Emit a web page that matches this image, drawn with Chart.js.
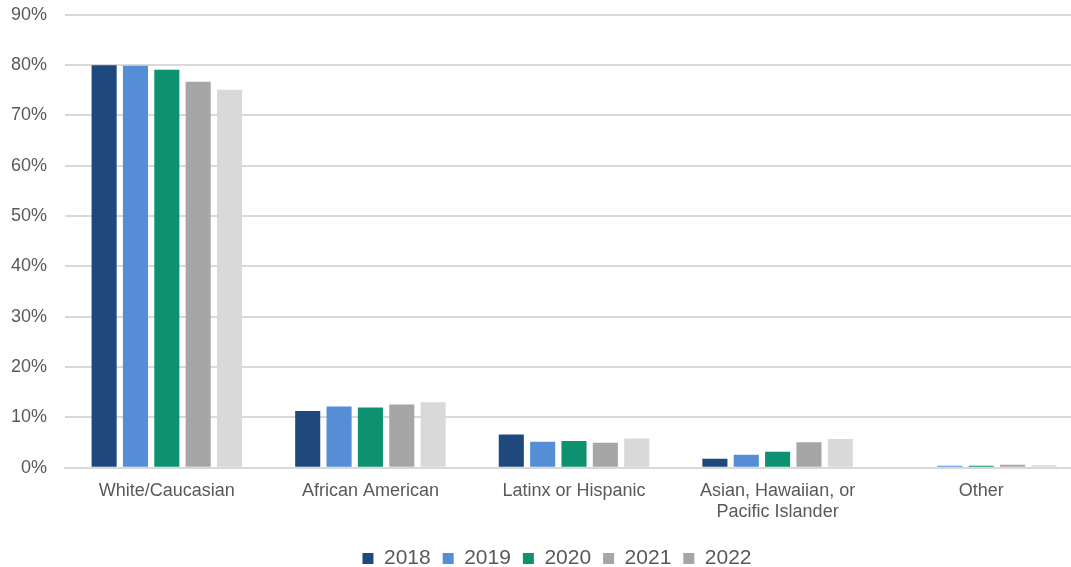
<!DOCTYPE html>
<html>
<head>
<meta charset="utf-8">
<script src="https://cdn.jsdelivr.net/npm/chart.js@4"></script>
<style>
  html, body { margin: 0; padding: 0; background: #fff; overflow: hidden; }
  /* plot runs slightly past the right edge of the window */
  #wrap { width: 1083px; height: 567px; }
</style>
</head>
<body>
<div id="wrap"><canvas id="raceChart"></canvas></div>
<script>
const categories = [
    'White/Caucasian',
    'African American',
    'Latinx or Hispanic',
    ['Asian, Hawaiian, or', 'Pacific Islander'],
    'Other'
];
const years = ['2018', '2019', '2020', '2021', '2022'];
const share2018 = [80.0, 11.3, 6.6, 1.8, 0.2];
const share2019 = [79.9, 12.2, 5.2, 2.6, 0.4];
const share2020 = [79.1, 12.0, 5.3, 3.2, 0.4];
const share2021 = [76.7, 12.6, 5.0, 5.1, 0.6];
const share2022 = [75.1, 13.0, 5.8, 5.7, 0.5];
const yTicks = [0, 10, 20, 30, 40, 50, 60, 70, 80, 90];

const barColors = ['#1f497d', '#558ed5', '#0e9170', '#a6a6a6', '#d9d9d9'];
// the 2022 legend swatch is the darker gray
const swatchColors = ['#1f497d', '#558ed5', '#0e9170', '#a6a6a6', '#a6a6a6'];
const textColor = '#595959';
const fontFamily = 'Liberation Sans, Arial, sans-serif';

const series = [share2018, share2019, share2020, share2021, share2022];

// nudge the legend row a little to the right
const legendShift = {
    id: 'legendShift',
    afterLayout(chart) {
        chart.legend.left += 12;
        chart.legend.right += 12;
    }
};

document.addEventListener('DOMContentLoaded', () => {
    const ctx = document.getElementById('raceChart').getContext('2d');
    new Chart(ctx, {
        type: 'bar',
        data: {
            labels: categories,
            datasets: series.map((values, i) => ({
                label: years[i],
                data: values,
                backgroundColor: barColors[i],
                borderWidth: 0,
                categoryPercentage: 0.77,
                barPercentage: 0.8
            }))
        },
        options: {
            responsive: true,
            maintainAspectRatio: false,
            animation: false,
            layout: { padding: { top: 0, right: 0, left: 7, bottom: -12 } },
            scales: {
                y: {
                    min: 0,
                    max: 90,
                    afterBuildTicks: axis => { axis.ticks = yTicks.map(v => ({ value: v })); },
                    ticks: {
                        color: textColor,
                        font: { family: fontFamily, size: 18 },
                        padding: 4,
                        callback: v => v + '%'
                    },
                    // invisible tick marks keep a gap between labels and gridlines
                    grid: { color: '#d9d9d9', lineWidth: 2, drawTicks: true, tickLength: 14, tickColor: 'rgba(0,0,0,0)' },
                    border: { display: false }
                },
                x: {
                    ticks: {
                        color: textColor,
                        font: { family: fontFamily, size: 18 },
                        padding: 4,
                        maxRotation: 0
                    },
                    grid: { display: false },
                    border: { color: '#d9d9d9', width: 2 },
                    afterFit: scale => { scale.height += 9; }
                }
            },
            plugins: {
                legend: {
                    position: 'bottom',
                    labels: {
                        color: textColor,
                        font: { family: fontFamily, size: 21 },
                        boxWidth: 11,
                        boxHeight: 11,
                        padding: 12,
                        generateLabels: chart => years.map((y, i) => ({
                            text: y,
                            fillStyle: swatchColors[i],
                            strokeStyle: swatchColors[i],
                            lineWidth: 0,
                            fontColor: textColor,
                            datasetIndex: i,
                            hidden: false
                        }))
                    }
                },
                tooltip: { enabled: false }
            }
        },
        plugins: [legendShift]
    });
});
</script>
</body>
</html>
